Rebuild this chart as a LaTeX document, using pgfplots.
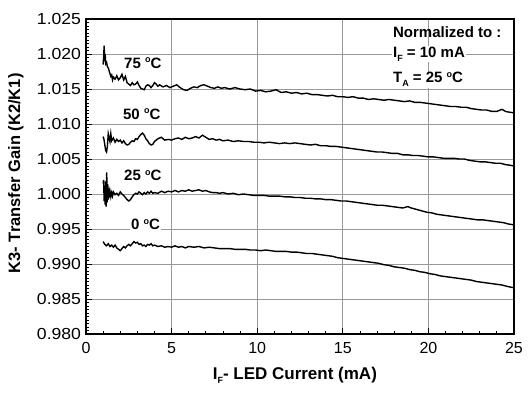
\documentclass[border=0pt]{standalone}
\usepackage{pgfplots}
\pgfplotsset{compat=1.18}
\usepackage{fontspec}
\setmainfont{Liberation Sans}
\newcommand{\dg}{\raisebox{5.5pt}{\fontsize{9}{9}\selectfont o}}
\newcommand{\sub}[1]{\raisebox{-4pt}{\fontsize{9}{9}\selectfont #1}}
\begin{document}
\begin{tikzpicture}
\path[use as bounding box] (-86pt,-58pt) rectangle (444pt,334pt);
\begin{axis}[
  at={(0,0)}, anchor=south west,
  scale only axis, width=428pt, height=315pt,
  xmin=0, xmax=25, ymin=0.980, ymax=1.025,
  xtick={0,5,...,25},
  ytick={0.980,0.985,...,1.026},
  minor x tick num=4, minor y tick num=9,
  xtick pos=bottom, ytick pos=left,
  tick align=inside,
  major tick length=6pt, minor tick length=3pt,
  every tick/.style={black, line width=0.8pt},
  axis line style={black, line width=1.3pt},
  grid=major,
  major grid style={color=black!40, line width=0.8pt},
  /pgf/number format/assume math mode=true,
  y tick label style={/pgf/number format/fixed, /pgf/number format/fixed zerofill, /pgf/number format/precision=3, xscale=1.1, xshift=-1pt, font=\fontsize{16}{16}\selectfont},
  x tick label style={yshift=-5pt, font=\fontsize{16}{16}\selectfont},
  every axis y label/.style={at={(axis description cs:-0.164,0.51)}, rotate=90, anchor=center},
  every axis x label/.style={at={(axis description cs:0.488,-0.146)}, anchor=base},
  ylabel={\fontsize{16.5}{17}\selectfont\bfseries K3- Transfer Gain (K2/K1)},
  xlabel={\fontsize{17}{17}\selectfont\bfseries I\sub{F}- LED Current (mA)},
  clip=false,
]
% 75 C
\addplot[black, line width=1.4pt] coordinates {
(1.00,1.0185)(1.03,1.0195)(1.06,1.0212)(1.09,1.0190)(1.12,1.0200)(1.15,1.0186)(1.2,1.0188)(1.25,1.0182)(1.3,1.0180)(1.35,1.0176)(1.4,1.0172)(1.45,1.0168)(1.5,1.0170)(1.55,1.0163)(1.6,1.0167)(1.7,1.0164)(1.8,1.0169)(1.9,1.0163)(2.0,1.0166)(2.1,1.0171)(2.2,1.0163)(2.3,1.0168)(2.4,1.0159)(2.5,1.0157)(2.6,1.0155)(2.7,1.0159)(2.8,1.0156)(2.9,1.0157)(3.0,1.0160)(3.1,1.0155)(3.2,1.0151)(3.3,1.0150)(3.4,1.0149)(3.5,1.0154)(3.6,1.0156)(3.7,1.0155)(3.8,1.0152)(3.9,1.0155)(4.0,1.0159)(4.1,1.0157)(4.2,1.0154)(4.3,1.0156)(4.5,1.0153)(4.7,1.0155)(4.9,1.0152)(5.1,1.0154)(5.3,1.0156)(5.5,1.0152)(5.7,1.0149)(5.9,1.0148)(6.1,1.0151)(6.3,1.0153)(6.5,1.0152)(6.7,1.0155)(6.9,1.0156)(7.1,1.0154)(7.3,1.0152)(7.5,1.0151)(7.7,1.0153)(7.9,1.0151)(8.1,1.0152)(8.4,1.0150)(8.7,1.0152)(9.0,1.0150)(9.3,1.0149)(9.6,1.0150)(9.9,1.0147)(10.2,1.0148)(10.5,1.0146)(10.8,1.0147)(11.1,1.0149)(11.4,1.0145)(11.7,1.0146)(12.0,1.0144)(12.3,1.0145)(12.6,1.0143)(12.9,1.0144)(13.2,1.0142)(13.5,1.0142)(13.8,1.0141)(14.1,1.0140)(14.4,1.0141)(14.7,1.0139)(15.0,1.0139)(15.3,1.0138)(15.6,1.0139)(15.9,1.0137)(16.2,1.0137)(16.5,1.0135)(16.8,1.0136)(17.1,1.0135)(17.4,1.0134)(17.7,1.0135)(18.0,1.0134)(18.3,1.0133)(18.6,1.0132)(18.9,1.0133)(19.2,1.0131)(19.5,1.0131)(19.8,1.0130)(20.1,1.0129)(20.4,1.0128)(20.7,1.0127)(21.0,1.0126)(21.3,1.0125)(21.6,1.0125)(21.9,1.0124)(22.2,1.0124)(22.5,1.0122)(22.8,1.0121)(23.1,1.0120)(23.4,1.0120)(23.7,1.0118)(24.0,1.0118)(24.3,1.0121)(24.5,1.0118)(24.7,1.0117)(25.0,1.0116)
};
% 50 C
\addplot[black, line width=1.4pt] coordinates {
(1.00,1.0082)(1.05,1.0078)(1.1,1.0070)(1.15,1.0062)(1.2,1.0060)(1.25,1.0068)(1.3,1.0086)(1.35,1.0080)(1.4,1.0075)(1.45,1.0086)(1.5,1.0076)(1.6,1.0080)(1.7,1.0074)(1.8,1.0078)(1.9,1.0075)(2.0,1.0077)(2.1,1.0073)(2.2,1.0076)(2.3,1.0072)(2.4,1.0070)(2.5,1.0071)(2.6,1.0074)(2.7,1.0076)(2.8,1.0075)(2.9,1.0079)(3.0,1.0078)(3.1,1.0082)(3.2,1.0085)(3.3,1.0087)(3.4,1.0084)(3.5,1.0079)(3.6,1.0076)(3.7,1.0072)(3.8,1.0070)(3.9,1.0071)(4.0,1.0075)(4.2,1.0079)(4.4,1.0081)(4.6,1.0077)(4.8,1.0078)(5.0,1.0077)(5.2,1.0079)(5.4,1.0080)(5.6,1.0078)(5.8,1.0081)(6.0,1.0079)(6.2,1.0080)(6.4,1.0082)(6.6,1.0080)(6.8,1.0084)(7.0,1.0081)(7.2,1.0078)(7.4,1.0079)(7.6,1.0077)(7.8,1.0078)(8.0,1.0076)(8.3,1.0077)(8.6,1.0075)(8.9,1.0076)(9.2,1.0075)(9.5,1.0075)(9.8,1.0074)(10.1,1.0074)(10.4,1.0073)(10.7,1.0074)(11.0,1.0073)(11.3,1.0072)(11.6,1.0073)(11.9,1.0072)(12.2,1.0073)(12.5,1.0072)(12.8,1.0071)(13.1,1.0070)(13.4,1.0071)(13.7,1.0069)(14.0,1.0069)(14.3,1.0068)(14.6,1.0068)(14.9,1.0067)(15.2,1.0066)(15.5,1.0065)(15.8,1.0064)(16.1,1.0063)(16.4,1.0062)(16.7,1.0061)(17.0,1.0060)(17.3,1.0060)(17.6,1.0059)(17.9,1.0058)(18.2,1.0058)(18.5,1.0056)(18.8,1.0056)(19.1,1.0055)(19.4,1.0055)(19.7,1.0054)(20.0,1.0053)(20.3,1.0053)(20.6,1.0052)(20.9,1.0051)(21.2,1.0051)(21.5,1.0051)(21.8,1.0050)(22.1,1.0050)(22.4,1.0048)(22.7,1.0047)(23.0,1.0046)(23.3,1.0046)(23.6,1.0045)(23.9,1.0044)(24.2,1.0044)(24.5,1.0042)(24.8,1.0041)(25.0,1.0040)
};
% 25 C
\addplot[black, line width=1.4pt] coordinates {
(1.00,1.0015)(1.03,1.0020)(1.06,0.9990)(1.09,1.0012)(1.12,0.9985)(1.15,1.0018)(1.18,0.9982)(1.21,1.0031)(1.24,0.9988)(1.27,1.0014)(1.30,0.9992)(1.33,1.0008)(1.36,0.9995)(1.40,1.0004)(1.45,0.9996)(1.5,1.0002)(1.55,0.9997)(1.6,1.0003)(1.7,0.9999)(1.8,1.0001)(1.9,0.9998)(2.0,1.0003)(2.1,1.0000)(2.2,0.9998)(2.3,0.9995)(2.4,0.9992)(2.5,0.9990)(2.6,0.9992)(2.7,0.9996)(2.8,0.9999)(2.9,1.0001)(3.0,1.0000)(3.1,1.0003)(3.2,1.0001)(3.3,0.9999)(3.4,1.0002)(3.5,1.0000)(3.6,1.0003)(3.7,1.0001)(3.8,1.0004)(3.9,1.0001)(4.0,1.0002)(4.2,1.0001)(4.4,1.0004)(4.6,1.0002)(4.8,1.0004)(5.0,1.0003)(5.2,1.0005)(5.4,1.0003)(5.6,1.0005)(5.8,1.0004)(6.0,1.0006)(6.2,1.0004)(6.4,1.0005)(6.6,1.0006)(6.8,1.0004)(7.0,1.0005)(7.2,1.0003)(7.4,1.0002)(7.6,1.0002)(7.8,1.0001)(8.0,1.0002)(8.3,1.0000)(8.6,1.0001)(8.9,0.9999)(9.2,1.0000)(9.5,0.9999)(9.8,0.9998)(10.1,0.9998)(10.4,0.9998)(10.7,0.9997)(11.0,0.9997)(11.3,0.9997)(11.6,0.9996)(11.9,0.9996)(12.2,0.9995)(12.5,0.9995)(12.8,0.9994)(13.1,0.9994)(13.4,0.9993)(13.7,0.9993)(14.0,0.9992)(14.3,0.9992)(14.6,0.9991)(14.9,0.9990)(15.2,0.9990)(15.5,0.9989)(15.8,0.9988)(16.1,0.9987)(16.4,0.9986)(16.7,0.9985)(17.0,0.9984)(17.3,0.9984)(17.6,0.9983)(17.9,0.9982)(18.2,0.9981)(18.5,0.9980)(18.8,0.9982)(19.0,0.9980)(19.3,0.9978)(19.6,0.9976)(19.9,0.9974)(20.2,0.9973)(20.5,0.9971)(20.8,0.9970)(21.1,0.9969)(21.4,0.9968)(21.7,0.9967)(22.0,0.9966)(22.3,0.9965)(22.6,0.9964)(22.9,0.9963)(23.2,0.9963)(23.5,0.9962)(23.8,0.9961)(24.1,0.9960)(24.4,0.9959)(24.7,0.9957)(25.0,0.9956)
};
% 0 C
\addplot[black, line width=1.4pt] coordinates {
(1.00,0.9932)(1.1,0.9928)(1.2,0.9926)(1.3,0.9929)(1.4,0.9925)(1.5,0.9927)(1.6,0.9924)(1.7,0.9927)(1.8,0.9923)(1.9,0.9921)(2.0,0.9919)(2.1,0.9922)(2.2,0.9925)(2.3,0.9923)(2.4,0.9926)(2.5,0.9928)(2.6,0.9926)(2.7,0.9929)(2.8,0.9932)(2.9,0.9930)(3.0,0.9931)(3.1,0.9928)(3.2,0.9929)(3.3,0.9926)(3.4,0.9927)(3.5,0.9925)(3.6,0.9928)(3.7,0.9927)(3.8,0.9929)(3.9,0.9926)(4.0,0.9927)(4.2,0.9925)(4.4,0.9926)(4.6,0.9924)(4.8,0.9925)(5.0,0.9924)(5.2,0.9926)(5.4,0.9924)(5.6,0.9925)(5.8,0.9923)(6.0,0.9925)(6.3,0.9924)(6.6,0.9925)(6.9,0.9923)(7.2,0.9924)(7.5,0.9923)(7.8,0.9922)(8.1,0.9922)(8.4,0.9922)(8.7,0.9921)(9.0,0.9921)(9.3,0.9921)(9.6,0.9920)(9.9,0.9920)(10.2,0.9919)(10.5,0.9920)(10.8,0.9919)(11.1,0.9918)(11.4,0.9918)(11.7,0.9918)(12.0,0.9917)(12.3,0.9917)(12.6,0.9916)(12.9,0.9915)(13.2,0.9915)(13.5,0.9914)(13.8,0.9913)(14.1,0.9912)(14.4,0.9911)(14.7,0.9909)(15.0,0.9908)(15.3,0.9907)(15.6,0.9906)(15.9,0.9905)(16.2,0.9904)(16.5,0.9903)(16.8,0.9902)(17.1,0.9901)(17.4,0.9899)(17.7,0.9898)(18.0,0.9896)(18.3,0.9895)(18.6,0.9894)(18.9,0.9892)(19.2,0.9891)(19.5,0.9889)(19.8,0.9888)(20.1,0.9886)(20.4,0.9885)(20.7,0.9883)(21.0,0.9882)(21.3,0.9881)(21.6,0.9880)(21.9,0.9879)(22.2,0.9878)(22.5,0.9877)(22.8,0.9875)(23.1,0.9874)(23.4,0.9873)(23.7,0.9872)(24.0,0.9871)(24.3,0.9870)(24.6,0.9868)(25.0,0.9866)
};
\tikzset{lbl/.style={anchor=base west, fill=white, inner sep=1pt, font=\fontsize{15}{15}\selectfont\bfseries}}
\node[lbl] at (axis cs:2.16,1.0180) {75 \dg C};
\node[lbl] at (axis cs:2.10,1.01071) {50 \dg C};
\node[lbl] at (axis cs:2.16,1.00186) {25 \dg C};
\node[lbl] at (axis cs:2.57,0.99486) {0 \dg C};
\node[lbl, fill=none] at (axis cs:17.87,1.02229) {Normalized to :};
\node[lbl] at (axis cs:17.87,1.01957) {I\sub{F} = 10 mA};
\node[lbl] at (axis cs:17.87,1.01586) {T\sub{A} = 25 \dg C};
\end{axis}
\end{tikzpicture}
\end{document}
